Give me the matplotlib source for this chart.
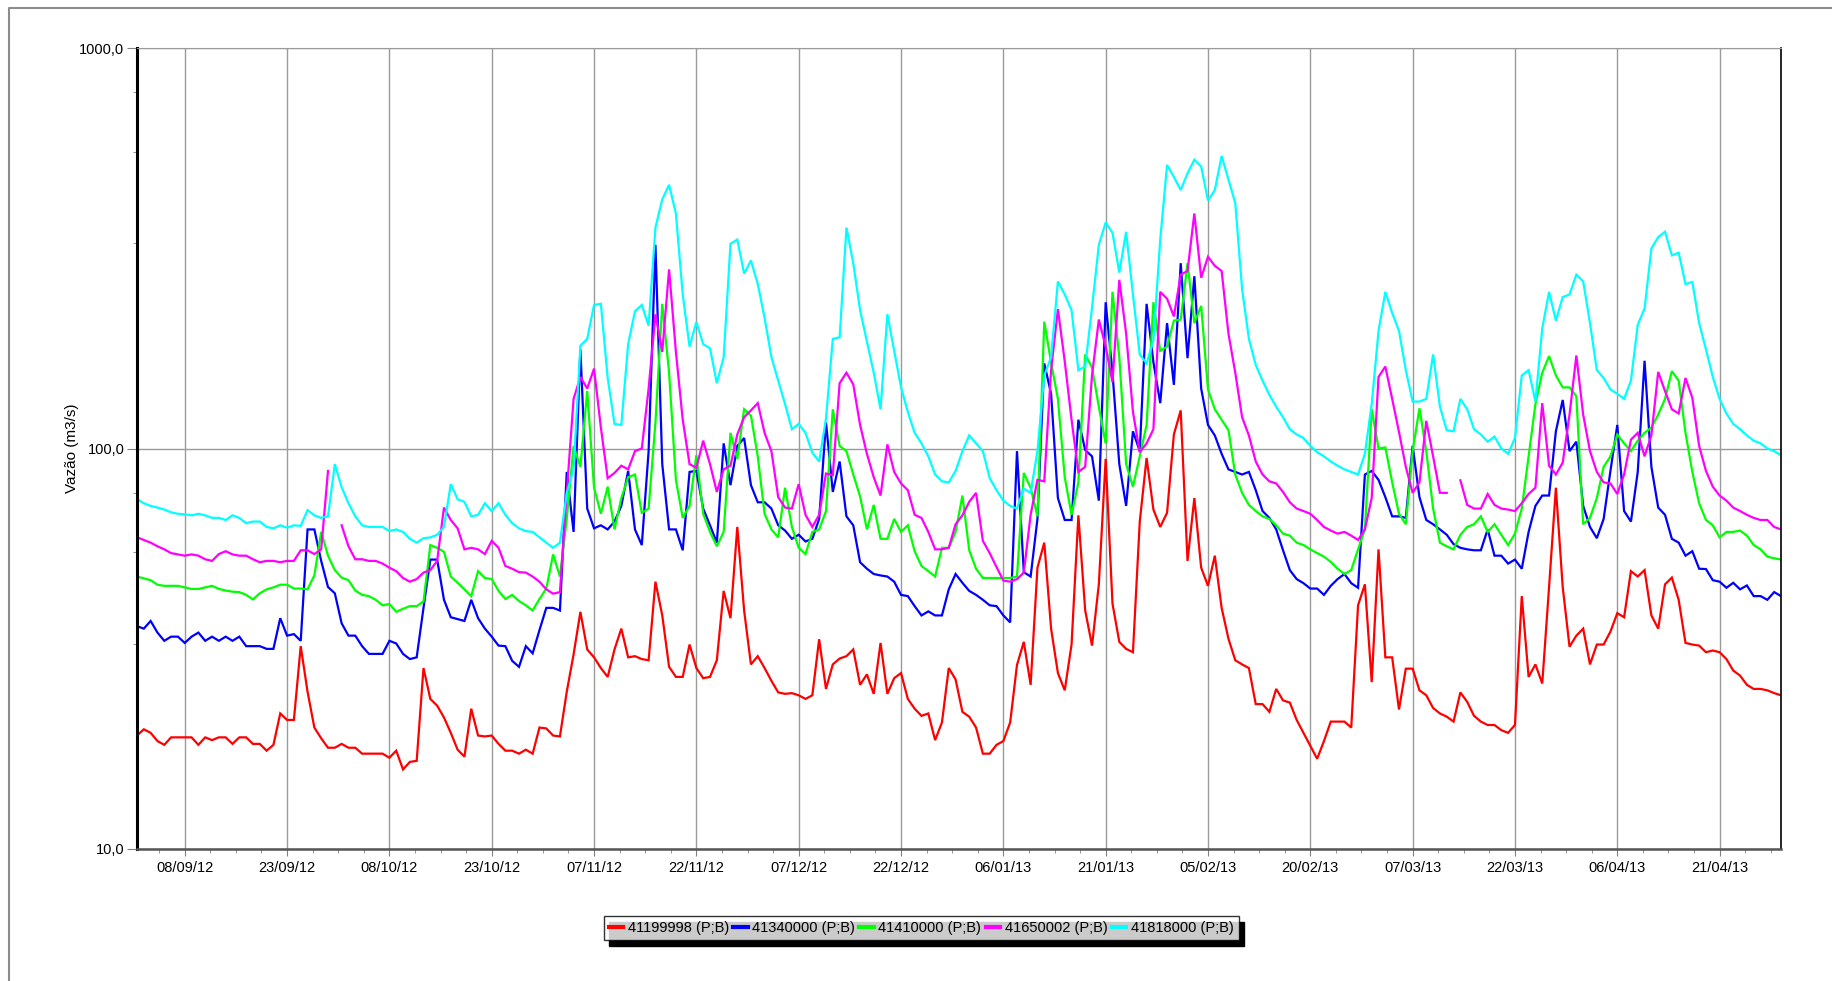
import numpy as np
import pandas as pd
import matplotlib
matplotlib.use("Agg")
import matplotlib.pyplot as plt
import matplotlib.dates as mdates
from matplotlib.patches import Rectangle
from matplotlib.lines import Line2D
from matplotlib.transforms import IdentityTransform

plt.rcParams['font.family'] = ['Liberation Sans', 'DejaVu Sans']

nan = np.nan
start_date = "2012-09-01"
labels = ["41199998 (P;B)", "41340000 (P;B)", "41410000 (P;B)", "41650002 (P;B)", "41818000 (P;B)"]
colors = ["#ff0000", "#0000ff", "#00ff00", "#ff00ff", "#00ffff"]
ytick_labels = ["10,0", "100,0", "1000,0"]

s41199998 = (
    [19.2, 19.9, 19.5, 18.6, 18.2, 19.0, 19.0, 19.0, 19.0, 18.2, 19.0, 18.7, 19.0, 19.0, 18.3, 19.0, 19.0, 18.3, 18.3, 17.6,
     18.2, 21.8, 21.0, 21.0, 32.1, 24.7, 20.1, 18.9, 17.9, 17.9]
    + [18.3, 17.9, 17.9, 17.3, 17.3, 17.3, 17.3, 16.9, 17.6, 15.8, 16.5, 16.6, 28.3, 23.7, 22.8, 21.3, 19.5, 17.7, 17.0, 22.4,
       19.2, 19.1, 19.2, 18.3, 17.6, 17.6, 17.3, 17.7, 17.3, 20.1, 20.0]
    + [19.2, 19.1, 24.7, 30.6, 39.1, 31.5, 30.1, 28.3, 26.9, 31.5, 35.5, 30.1, 30.3, 29.8, 29.6, 46.5, 38.3, 28.5, 26.9, 26.9,
       32.4, 28.3, 26.7, 26.9, 29.6, 44.1, 37.7, 63.7, 39.4, 28.9, 30.3]
    + [28.3, 26.3, 24.6, 24.4, 24.5, 24.2, 23.7, 24.2, 33.4, 25.1, 28.9, 29.9, 30.3, 31.5, 25.7, 27.3, 24.4, 32.7, 24.4, 26.7,
       27.5, 23.7, 22.4, 21.5, 21.8, 18.7, 20.7, 28.3, 26.5, 22.0, 21.4]
    + [20.1, 17.3, 17.3, 18.2, 18.6, 20.7, 28.8, 32.9, 25.7, 50.4, 58.2, 35.5, 27.5, 24.9, 32.4, 68.1, 39.4, 32.2, 45.8, 94.2,
       41.0, 32.9, 31.6, 31.0, 65.7, 94.7, 70.4, 63.7, 69.1, 108.4]
    + [124.5, 52.4, 75.2, 50.4, 45.4, 54.0, 40.0, 33.5, 29.6, 28.9, 28.3, 23.0, 23.0, 22.0, 25.1, 23.5, 23.2, 21.0, 19.5, 18.1,
       16.8, 18.6, 20.8, 20.8, 20.8, 20.1, 40.6, 45.8, 26.1, 56.0, 30.1]
    + [30.1, 22.3, 28.2, 28.2, 24.9, 24.2, 22.5, 21.8, 21.4, 20.8, 24.6, 23.3, 21.5, 20.8, 20.4, 20.4, 19.8, 19.5, 20.4, 42.8,
       26.9, 28.9, 25.9, 45.1, 79.8, 45.1, 32.0, 34.1, 35.5, 28.9, 32.4]
    + [32.4, 34.9, 38.8, 37.9, 49.4, 47.9, 49.7, 38.3, 35.5, 45.8, 47.6, 41.9, 32.7, 32.4, 32.2, 31.0, 31.3, 31.0, 29.8, 27.9,
       27.1, 25.7, 25.1, 25.1, 24.9, 24.5, 24.2]
)

s41340000 = (
    [36.0, 35.5, 37.1, 34.7, 33.1, 33.9, 33.9, 32.7, 33.9, 34.7, 33.1, 33.9, 33.1, 33.9, 33.1, 33.9, 32.1, 32.1, 32.1, 31.6,
     31.6, 37.7, 34.1, 34.4, 33.1, 62.8, 62.8, 52.4, 45.1, 43.5]
    + [36.6, 34.1, 34.1, 32.1, 30.7, 30.7, 30.7, 33.1, 32.6, 30.7, 29.8, 30.1, 40.0, 52.8, 52.8, 41.9, 37.9, 37.5, 37.1, 41.9,
       37.7, 35.5, 33.9, 32.2, 32.1, 29.5, 28.5, 32.1, 30.8, 35.2, 40.0]
    + [40.0, 39.4, 87.4, 61.9, 176.8, 70.8, 63.2, 64.3, 62.8, 65.7, 71.9, 87.9, 62.8, 57.4, 98.5, 322.5, 91.4, 62.8, 62.8, 55.7,
       87.4, 87.9, 70.8, 64.3, 58.2, 103.0, 81.0, 101.5, 106.2, 81.0, 73.4]
    + [73.4, 70.8, 64.3, 62.4, 59.5, 60.9, 58.6, 59.5, 66.7, 116.2, 77.9, 92.8, 67.7, 64.3, 52.0, 50.1, 48.6, 48.2, 47.9, 46.5,
       43.1, 42.8, 40.4, 38.3, 39.2, 38.3, 38.3, 44.5, 48.6, 46.2, 44.1]
    + [43.1, 41.9, 40.6, 40.4, 38.3, 36.8, 98.5, 49.1, 47.9, 66.7, 163.1, 137.0, 75.2, 66.3, 66.3, 118.0, 99.1, 95.6, 74.1, 231.8,
       154.6, 91.4, 71.9, 110.4, 98.5, 229.7, 164.1, 129.8, 205.6, 144.2]
    + [290.2, 168.1, 269.3, 141.2, 114.5, 107.8, 97.0, 88.7, 87.4, 86.1, 87.4, 78.7, 69.8, 67.1, 62.8, 55.7, 49.7, 47.2, 46.1, 44.7,
       44.7, 43.1, 45.4, 47.2, 48.6, 46.1, 44.9, 86.1, 87.9, 83.5, 75.6]
    + [67.7, 67.7, 67.1, 101.5, 75.6, 66.3, 64.7, 62.8, 60.9, 57.7, 56.5, 56.0, 55.7, 55.7, 62.8, 54.0, 54.0, 51.6, 52.8, 50.1,
       61.9, 71.9, 76.3, 76.3, 110.4, 132.2, 98.5, 104.0, 71.9, 63.7, 59.7]
    + [66.7, 88.0, 114.5, 69.8, 65.7, 87.4, 165.6, 90.0, 71.2, 68.3, 59.5, 58.2, 54.0, 55.4, 50.1, 50.0, 46.9, 46.5, 44.9, 46.2,
       44.5, 45.5, 42.8, 42.8, 41.9, 43.8, 42.8]
)

s41410000 = (
    [47.9, 47.4, 46.9, 45.7, 45.4, 45.4, 45.4, 45.0, 44.6, 44.6, 45.0, 45.4, 44.6, 44.2, 43.9, 43.8, 43.1, 42.0, 43.5, 44.5,
     45.0, 45.7, 45.7, 44.7, 44.7, 44.5, 48.2, 61.9, 54.0, 49.7]
    + [47.6, 46.9, 44.2, 43.1, 42.8, 41.9, 40.6, 40.9, 39.1, 39.8, 40.4, 40.4, 41.5, 57.4, 56.5, 55.2, 47.9, 46.2, 44.5, 42.8,
       49.4, 47.5, 47.2, 44.1, 42.1, 43.1, 41.6, 40.6, 39.4, 42.1, 44.7]
    + [54.4, 47.9, 66.7, 101.5, 90.0, 139.1, 79.8, 68.7, 80.3, 62.8, 75.2, 84.8, 86.1, 69.1, 70.8, 116.2, 229.7, 154.6, 83.5, 67.1,
       71.9, 96.2, 68.7, 61.9, 57.0, 61.9, 109.4, 94.2, 125.3, 120.8, 95.6]
    + [68.7, 62.8, 60.0, 79.8, 63.7, 56.5, 54.5, 61.9, 62.8, 69.8, 125.3, 101.5, 98.5, 86.1, 75.9, 62.8, 72.3, 59.5, 59.5, 66.7,
       61.9, 64.3, 55.4, 50.9, 49.4, 47.9, 56.5, 56.5, 61.9, 76.3, 55.7]
    + [50.1, 47.5, 47.5, 47.5, 47.5, 47.5, 47.9, 86.9, 79.8, 67.7, 207.4, 164.1, 133.0, 84.8, 68.3, 82.3, 171.7, 159.3, 127.1, 103.0,
       246.1, 169.1, 91.4, 80.3, 95.6, 114.5, 231.8, 175.3, 179.6, 208.6]
    + [209.9, 290.2, 205.6, 227.0, 140.4, 125.3, 118.0, 111.1, 86.1, 77.5, 72.3, 69.8, 67.7, 66.7, 64.3, 61.3, 60.6, 58.2, 57.4, 56.0,
       54.8, 53.7, 52.1, 50.1, 48.6, 49.7, 56.0, 62.8, 125.3, 100.0, 100.6]
    + [82.3, 68.7, 64.7, 98.5, 126.0, 98.5, 70.8, 58.2, 57.0, 56.0, 60.9, 63.7, 64.7, 67.7, 61.9, 64.7, 60.9, 57.4, 61.3, 70.8,
       95.6, 129.1, 154.6, 170.1, 152.2, 142.1, 142.1, 135.0, 64.7, 67.1, 75.2]
    + [90.0, 95.6, 108.4, 103.0, 98.5, 104.6, 109.4, 112.8, 121.5, 133.0, 156.0, 147.7, 109.4, 87.4, 73.0, 66.3, 64.3, 60.0, 61.9, 61.9,
       62.4, 60.6, 57.4, 56.0, 53.7, 53.2, 52.8]
)

s41650002 = (
    [60.0, 59.1, 58.2, 57.0, 56.0, 54.8, 54.4, 54.0, 54.4, 54.0, 52.9, 52.4, 54.5, 55.4, 54.4, 54.0, 54.0, 52.9, 52.0, 52.4,
     52.4, 52.0, 52.4, 52.4, 55.7, 55.7, 54.5, 56.0, 87.9, nan]
    + [64.3, 57.0, 52.9, 52.9, 52.4, 52.4, 51.6, 50.4, 49.4, 47.5, 46.5, 47.2, 49.0, 49.7, 52.4, 71.2, 66.3, 63.2, 56.0, 56.5,
       56.0, 54.5, 58.8, 56.5, 50.9, 50.1, 49.1, 49.0, 47.9, 46.5, 44.5]
    + [43.4, 43.8, 77.5, 133.0, 150.9, 141.2, 158.3, 112.8, 84.3, 86.9, 90.6, 88.7, 98.5, 100.0, 141.2, 216.3, 174.3, 280.1, 174.3, 118.0,
       91.4, 89.5, 104.6, 91.4, 77.9, 88.7, 90.6, 108.4, 119.7, 124.5, 129.8]
    + [109.4, 98.5, 75.6, 71.2, 70.8, 81.5, 68.3, 63.7, 68.3, 86.6, 85.8, 145.5, 154.6, 144.6, 114.5, 97.0, 84.8, 76.3, 102.4, 87.4,
       81.8, 78.7, 68.3, 67.1, 61.9, 56.0, 56.0, 56.5, 64.7, 68.1, 73.6]
    + [77.5, 58.8, 54.8, 50.6, 46.8, 46.5, 47.2, 49.0, 68.3, 83.5, 82.8, 156.9, 222.9, 165.1, 118.0, 87.4, 90.0, 152.2, 209.9, 179.6,
       146.4, 263.7, 193.6, 123.4, 97.9, 103.0, 111.7, 246.1, 236.7, 213.7]
    + [271.7, 277.5, 386.2, 266.9, 301.0, 285.9, 277.5, 193.6, 154.6, 119.7, 107.8, 92.8, 86.1, 82.8, 81.8, 77.9, 73.4, 70.8, 69.8, 68.7,
       66.3, 63.7, 62.4, 61.3, 61.9, 60.6, 59.1, 62.8, 75.2, 150.9, 160.2]
    + [133.0, 110.0, 90.0, 77.5, 82.3, 117.2, 95.6, 77.5, 77.5, nan, 83.3, 72.3, 70.8, 70.8, 77.0, 72.3, 70.8, 70.4, 69.8, 73.0,
       77.0, 79.8, 129.8, 90.6, 86.1, 92.2, 121.5, 170.7, 121.5, 98.5, 87.4]
    + [82.3, 81.8, 77.0, 86.1, 105.2, 109.4, 95.6, 107.8, 155.3, 139.1, 125.3, 122.3, 150.0, 133.8, 101.5, 87.9, 80.3, 76.3, 74.1, 71.2,
       69.8, 68.3, 67.1, 66.3, 66.3, 63.7, 62.8]
)

s41818000 = (
    [74.7, 73.0, 71.9, 71.2, 70.4, 69.3, 68.7, 68.5, 68.1, 68.7, 68.1, 67.1, 67.1, 66.3, 68.1, 67.1, 65.1, 65.7, 65.7, 63.7,
     63.2, 64.3, 63.4, 64.3, 64.1, 70.2, 68.1, 67.1, 67.7, 91.4]
    + [80.0, 73.0, 67.7, 64.3, 63.7, 63.7, 63.7, 62.2, 62.8, 61.9, 59.5, 58.2, 59.7, 60.0, 60.9, 63.7, 81.5, 74.7, 73.6, 67.7,
       68.3, 73.0, 69.8, 73.0, 68.3, 65.1, 63.2, 62.2, 61.9, 60.0, 58.2]
    + [56.5, 58.2, 77.5, 88.7, 180.6, 187.8, 228.3, 229.7, 150.0, 115.2, 114.5, 182.3, 220.2, 228.3, 202.5, 356.1, 418.7, 455.4, 386.2, 242.4,
       179.6, 206.8, 182.3, 177.9, 145.5, 169.1, 324.4, 332.3, 273.3, 294.7, 257.4]
    + [212.0, 169.1, 147.7, 129.1, 111.7, 115.2, 109.4, 97.6, 92.8, 118.7, 187.8, 189.5, 356.1, 290.2, 221.5, 185.0, 154.6, 125.3, 216.3, 175.3,
       142.1, 123.4, 109.4, 103.0, 95.6, 86.1, 82.8, 82.3, 87.9, 98.5, 107.8]
    + [103.0, 98.5, 84.3, 78.7, 74.1, 71.9, 70.8, 79.4, 77.5, 98.5, 152.2, 169.1, 261.3, 242.4, 221.5, 156.9, 160.2, 224.9, 322.5, 366.9,
       345.5, 275.0, 347.6, 242.4, 171.7, 163.1, 186.2, 332.3, 510.5, 476.4]
    + [441.9, 486.5, 526.0, 505.8, 416.2, 441.9, 537.3, 469.4, 410.1, 249.8, 187.8, 161.7, 147.7, 136.2, 127.1, 119.7, 111.7, 108.4, 106.2, 101.5,
       97.9, 95.6, 92.8, 90.6, 88.7, 87.4, 86.1, 97.0, 129.1, 196.6, 246.1]
    + [218.0, 196.6, 156.9, 131.0, 131.0, 133.0, 171.7, 127.1, 111.1, 110.4, 133.0, 125.3, 111.7, 108.4, 104.0, 107.1, 100.0, 97.0, 106.2, 152.2,
       156.9, 131.0, 199.5, 246.1, 208.6, 238.8, 242.4, 271.7, 261.3, 205.6, 156.9]
    + [150.0, 140.4, 137.0, 133.0, 147.7, 203.7, 223.6, 315.8, 337.3, 347.6, 303.6, 308.2, 257.4, 260.5, 205.6, 176.8, 150.9, 133.0, 122.3, 115.2,
       111.7, 107.8, 104.6, 103.0, 100.0, 98.5, 96.2]
)

series = [s41199998, s41340000, s41410000, s41650002, s41818000]
n = len(s41199998)
for s in series:
    assert len(s) == n, [len(x) for x in series]
dates = pd.date_range(start_date, periods=n, freq="D")

W, H = 1832, 981
fig = plt.figure(figsize=(W / 100, H / 100), dpi=100)
fig.patch.set_facecolor("white")
L, R, T, B = 137, 1781, 48, 849
ax = fig.add_axes([L / W, 1 - B / H, (R - L) / W, (B - T) / H])

for s, c, lab in zip(series, colors, labels):
    ax.plot(dates, s, color=c, lw=1.6, label=lab, solid_joinstyle="miter")

ax.set_yscale("log")
ax.set_ylim(10, 1000)
ax.set_xlim(dates[0], dates[-1])

ax.yaxis.set_major_locator(matplotlib.ticker.FixedLocator([10, 100, 1000]))
ax.yaxis.set_major_formatter(matplotlib.ticker.FixedFormatter(ytick_labels))
ax.yaxis.set_minor_locator(matplotlib.ticker.FixedLocator([32.5, 55, 77.5, 325, 550, 775]))
ax.yaxis.set_minor_formatter(matplotlib.ticker.NullFormatter())

major_dates = pd.date_range("2012-09-08", "2013-04-30", freq="15D")
minor_dates = pd.date_range("2012-08-31 12:00", "2013-05-01", freq="90h")
ax.xaxis.set_major_locator(matplotlib.ticker.FixedLocator(mdates.date2num(major_dates)))
ax.xaxis.set_minor_locator(matplotlib.ticker.FixedLocator(mdates.date2num(minor_dates)))
ax.xaxis.set_major_formatter(mdates.DateFormatter("%d/%m/%y"))

ax.grid(True, which="major", color="#9a9a9a", lw=1)
ax.set_axisbelow(True)

ax.tick_params(axis="x", which="major", length=5, color="#808080", labelsize=10.5, pad=4)
ax.tick_params(axis="x", which="minor", length=3, color="#808080")
ax.tick_params(axis="y", which="major", length=7, color="#808080", labelsize=10.5, pad=2)
ax.tick_params(axis="y", which="minor", length=3, color="#808080")

ax.spines["left"].set_color("black")
ax.spines["left"].set_linewidth(2.2)
ax.spines["right"].set_color("black")
ax.spines["right"].set_linewidth(1.2)
ax.spines["top"].set_color("#9a9a9a")
ax.spines["bottom"].set_color("#555555")
ax.spines["bottom"].set_linewidth(1.8)

ax.set_ylabel("Vazão (m3/s)", fontsize=11)
ax.yaxis.set_label_coords((79 - L) / (R - L), 0.5)

# outer frame (left and top edges only)
fig.add_artist(Line2D([9 / W, 9 / W, 1.0], [0.0, 1 - 8 / H, 1 - 8 / H],
                      transform=fig.transFigure, color="#8c8c8c", lw=1.5))

handles = [Line2D([], [], color=c, lw=3) for c in colors]
leg = fig.legend(handles, labels, loc="center", bbox_to_anchor=(921 / W, 1 - 928 / H),
                 ncol=5, frameon=True, fancybox=False, fontsize=10.5,
                 handlelength=1.0, handletextpad=0.3, columnspacing=0.3,
                 borderpad=0.35, borderaxespad=0)
leg.get_frame().set_edgecolor("black")
leg.get_frame().set_linewidth(1.0)
leg.set_zorder(6)

fig.canvas.draw()
bb = leg.get_window_extent()
shadow = Rectangle((bb.x0 + 5, bb.y0 - 6), bb.width, bb.height, transform=IdentityTransform(),
                   facecolor="black", edgecolor="black", zorder=5)
fig.add_artist(shadow)

fig.savefig("out.png", dpi=100)
